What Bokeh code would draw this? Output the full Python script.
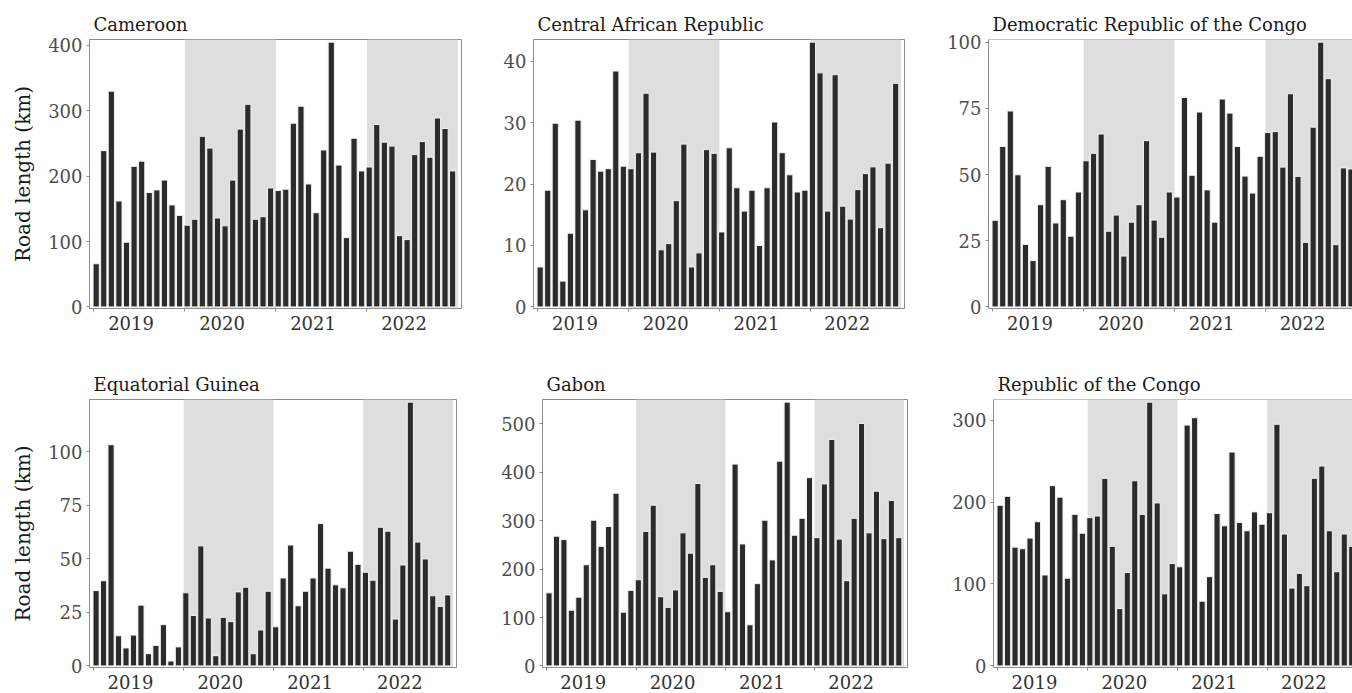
import numpy as np
from bokeh.plotting import figure
from bokeh.layouts import row, column
from bokeh.models import FixedTicker, BoxAnnotation, Span, Range1d
from bokeh.embed import file_html
from bokeh.resources import INLINE

# ---------------- data (monthly road length, km, Jan 2019 - Dec 2022) ----------------
years = [2019, 2020, 2021, 2022]
shaded_years = [2020, 2022]
year_labels = ["2019", "2020", "2021", "2022"]

cameroon = [66, 239, 330, 162, 99, 215, 223, 175, 179, 194, 156, 140,
            125, 134, 261, 243, 136, 124, 194, 272, 310, 134, 138, 182,
            178, 180, 281, 307, 188, 144, 240, 405, 217, 106, 258, 208,
            214, 279, 252, 246, 109, 103, 233, 253, 229, 289, 273, 208]
central_african_rep = [6.5, 19.0, 29.9, 4.2, 12.0, 30.4, 15.8, 24.0, 22.1, 22.5, 38.4, 22.9,
                       22.5, 25.1, 34.8, 25.2, 9.3, 10.3, 17.3, 26.5, 6.5, 8.8, 25.6, 25.0,
                       12.2, 25.9, 19.4, 15.6, 19.0, 10.0, 19.4, 30.1, 25.1, 21.5, 18.7, 19.0,
                       43.1, 38.1, 15.6, 37.8, 16.4, 14.3, 19.1, 21.7, 22.8, 12.9, 23.4, 36.4]
dr_congo = [32.7, 60.6, 74.0, 49.9, 23.6, 17.5, 38.6, 53.1, 31.7, 40.5, 26.7, 43.4,
            55.2, 58.0, 65.3, 28.6, 34.7, 19.2, 32.0, 38.6, 62.8, 32.8, 26.3, 43.4,
            41.5, 79.1, 49.7, 73.6, 44.2, 32.0, 78.5, 73.2, 60.6, 49.4, 43.0, 56.9,
            65.9, 66.2, 52.8, 80.5, 49.3, 24.4, 67.9, 100.0, 86.2, 23.5, 52.5, 52.1]
equatorial_guinea = [35.2, 39.8, 103.4, 14.1, 8.4, 14.4, 28.4, 5.7, 9.6, 19.3, 2.3, 8.9,
                     34.2, 23.6, 56.1, 22.4, 4.8, 22.7, 20.7, 34.6, 36.8, 5.7, 16.8, 34.9,
                     18.3, 41.1, 56.5, 28.1, 34.9, 41.1, 66.5, 45.7, 37.9, 36.5, 53.6, 47.5,
                     43.8, 40.1, 64.8, 63.0, 21.9, 47.2, 123.3, 57.9, 50.0, 32.8, 27.8, 33.2]
gabon = [151, 268, 261, 115, 142, 209, 301, 247, 288, 357, 111, 156,
         178, 278, 332, 143, 121, 157, 275, 233, 377, 183, 209, 154,
         112, 417, 252, 85, 170, 301, 219, 423, 545, 270, 305, 389,
         265, 376, 468, 262, 176, 305, 501, 275, 361, 263, 342, 265]
rep_congo = [196, 207, 145, 143, 156, 176, 111, 220, 206, 107, 185, 162,
             181, 183, 229, 146, 70, 114, 226, 185, 322, 199, 88, 125,
             121, 294, 303, 79, 109, 186, 171, 261, 175, 165, 188, 173,
             187, 295, 161, 95, 113, 98, 229, 244, 165, 115, 161, 146]

FONT = "DejaVu Serif"
BAR_FILL = "#2b2b2b"
BAND = "#dedede"
FRAME = "#8c8c8c"


def panel(title, values, yticks, bl, fw, br, bt, fh, bb, x_end=48.17, ylabel=False, cut=False):
    n = len(values)
    x = np.arange(n)
    ymax = max(values)
    p = figure(frame_width=fw, frame_height=fh,
               x_range=Range1d(-0.88, x_end),
               y_range=Range1d(-0.006 * ymax, 1.01 * ymax),
               output_backend="svg", toolbar_location=None,
               min_border_left=bl, min_border_right=br,
               min_border_top=bt, min_border_bottom=bb)
    p.background_fill_color = "white"
    p.border_fill_color = "white"
    p.xgrid.visible = False
    p.ygrid.visible = False

    # shaded years
    for yr in shaded_years:
        k = years.index(yr)
        p.add_layout(BoxAnnotation(left=12 * k - 0.3, right=12 * (k + 1) - 0.3,
                                   fill_color=BAND, fill_alpha=1.0,
                                   line_color=None, level="underlay"))

    p.vbar(x=x, top=values, bottom=0, width=0.82,
           fill_color=BAR_FILL, line_color="#f2f2f2", line_width=1)

    if cut:
        p.outline_line_color = None
        p.add_layout(Span(location=1.01 * ymax, dimension="width",
                          line_color=FRAME, line_width=1))
    else:
        p.outline_line_color = FRAME
        p.outline_line_width = 1

    # title
    p.title.text = title
    p.title.text_font = FONT
    p.title.text_font_size = "18px"
    p.title.text_font_style = "normal"
    p.title.text_color = "#1a1a1a"
    p.title.offset = 4
    p.title.standoff = 10

    # x axis
    xa = p.xaxis[0]
    xa.ticker = FixedTicker(ticks=[12 * k + 4.6 for k in range(len(years))],
                            minor_ticks=[12 * k - 0.3 for k in range(len(years))])
    xa.major_label_overrides = {12 * k + 4.6: lab for k, lab in enumerate(year_labels)}
    xa.major_tick_out = 0
    xa.major_tick_in = 0
    xa.major_tick_line_color = None
    xa.minor_tick_out = 3
    xa.minor_tick_in = 0
    xa.minor_tick_line_color = FRAME
    xa.axis_line_color = FRAME
    xa.major_label_text_font = FONT
    xa.major_label_text_font_size = "18px"
    xa.major_label_text_color = "#333333"
    xa.major_label_standoff = 4

    # y axis
    ya = p.yaxis[0]
    ya.ticker = FixedTicker(ticks=yticks)
    ya.major_tick_out = 3
    ya.major_tick_in = 0
    ya.major_tick_line_color = FRAME
    ya.minor_tick_line_color = None
    ya.axis_line_color = FRAME
    ya.major_label_text_font = FONT
    ya.major_label_text_font_size = "18px"
    ya.major_label_text_color = "#4d4d4d"
    ya.major_label_standoff = 4
    if ylabel:
        ya.axis_label = "Road length (km)"
        ya.axis_label_text_font = FONT
        ya.axis_label_text_font_size = "20px"
        ya.axis_label_text_font_style = "normal"
        ya.axis_label_text_color = "#1a1a1a"
        ya.axis_label_standoff = 10
    return p


f1 = panel("Cameroon", cameroon, [0, 100, 200, 300, 400], 89, 372, 19, 39, 269, 50, ylabel=True)
f2 = panel("Central African Republic", central_african_rep, [0, 10, 20, 30, 40], 53, 371, 26, 39, 269, 50)
f3 = panel("Democratic Republic of the Congo", dr_congo, [0, 25, 50, 75, 100], 58, 364, 0, 39, 269, 50,
           x_end=47.2, cut=True)
f4 = panel("Equatorial Guinea", equatorial_guinea, [0, 25, 50, 75, 100], 89, 367, 19, 41, 268, 26, ylabel=True)
f5 = panel("Gabon", gabon, [0, 100, 200, 300, 400, 500], 67, 365, 23, 41, 268, 26)
f6 = panel("Republic of the Congo", rep_congo, [0, 100, 200, 300], 63, 359, 0, 41, 268, 26,
           x_end=47.1, cut=True)

layout = column(row(f1, f2, f3), row(f4, f5, f6))

open("out.html", "w").write(file_html(layout, INLINE))
